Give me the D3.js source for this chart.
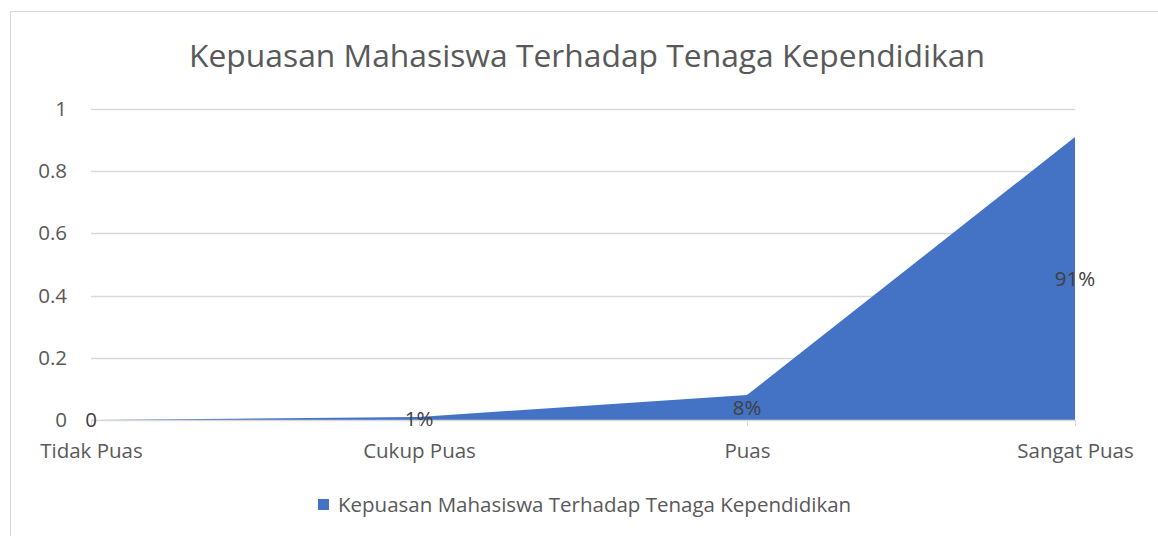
<!DOCTYPE html>
<html><head><meta charset="utf-8">
<script src="https://cdn.jsdelivr.net/npm/d3@7"></script>
<style>body{margin:0;background:#fff;}svg{display:block;}</style>
</head><body>
<svg id="c" width="1158" height="536"></svg>
<script>
const categories = ["Tidak Puas", "Cukup Puas", "Puas", "Sangat Puas"];
const values = [0, 0.01, 0.08, 0.91];
const dataLabels = ["0", "1%", "8%", "91%"];
const yTicks = [0, 0.2, 0.4, 0.6, 0.8, 1];
const title = "Kepuasan Mahasiswa Terhadap Tenaga Kependidikan";
const seriesName = "Kepuasan Mahasiswa Terhadap Tenaga Kependidikan";

const FONT = "'Open Sans', sans-serif";
const FS = 20.5;
const svg = d3.select("#c");
svg.append("rect").attr("x",10.5).attr("y",11.5).attr("width",1160).attr("height",540)
  .attr("fill","#fff").attr("stroke","#d9d9d9");

const x = d3.scalePoint().domain(categories).range([91, 1075]);
const y = d3.scaleLinear().domain([0, 1]).range([420, 109]);

svg.append("text").attr("x", 587).attr("y", 67).attr("text-anchor","middle")
  .attr("font-family", FONT).attr("font-size", 31.8).attr("fill","#595959").text(title);

// gridlines
svg.append("g").selectAll("line").data(yTicks.filter(d=>d>0)).join("line")
  .attr("x1", 91).attr("x2", 1075).attr("y1", d=>Math.round(y(d))+0.5).attr("y2", d=>Math.round(y(d))+0.5)
  .attr("stroke","#d9d9d9").attr("stroke-width",1.3);

// y axis labels
const yAxis = d3.axisLeft(y).tickValues(yTicks).tickSize(0).tickPadding(24).tickFormat(d=>String(d));
const gy = svg.append("g").attr("transform","translate(91,0)").call(yAxis);
gy.select(".domain").remove();
gy.selectAll("text").attr("font-family",FONT).attr("font-size",FS).attr("fill","#595959");

// area
const data = categories.map((c,i)=>({c, v: values[i], l: dataLabels[i]}));
svg.append("path").datum(data)
  .attr("d", d3.area().x(d=>x(d.c)).y0(y(0)).y1(d=>y(d.v)))
  .attr("fill","#4472C4");

// x axis
const xAxis = d3.axisBottom(x).tickSize(6).tickPadding(17);
const gx = svg.append("g").attr("transform",`translate(0,${y(0)})`).call(xAxis);
gx.select(".domain").attr("d", `M91,0.5H1075`).attr("stroke","#d9d9d9").attr("stroke-width",1.3);
gx.selectAll(".tick line").attr("stroke","#d9d9d9");
gx.selectAll("text").attr("font-family",FONT).attr("font-size",FS).attr("fill","#595959");

// data labels
svg.append("g").selectAll("text").data(data).join("text")
  .attr("x", d=>x(d.c)).attr("y", d=>y(d.v/2)).attr("dy","0.35em")
  .attr("text-anchor","middle").attr("font-family",FONT).attr("font-size",FS)
  .attr("fill","#404040").text(d=>d.l);

// legend
const lg = svg.append("g");
lg.append("rect").attr("x",318).attr("y",499).attr("width",11).attr("height",11).attr("fill","#4472C4");
lg.append("text").attr("x",338).attr("y",512).attr("font-family",FONT)
  .attr("font-size",FS).attr("fill","#595959").text(seriesName);
</script>
</body></html>
